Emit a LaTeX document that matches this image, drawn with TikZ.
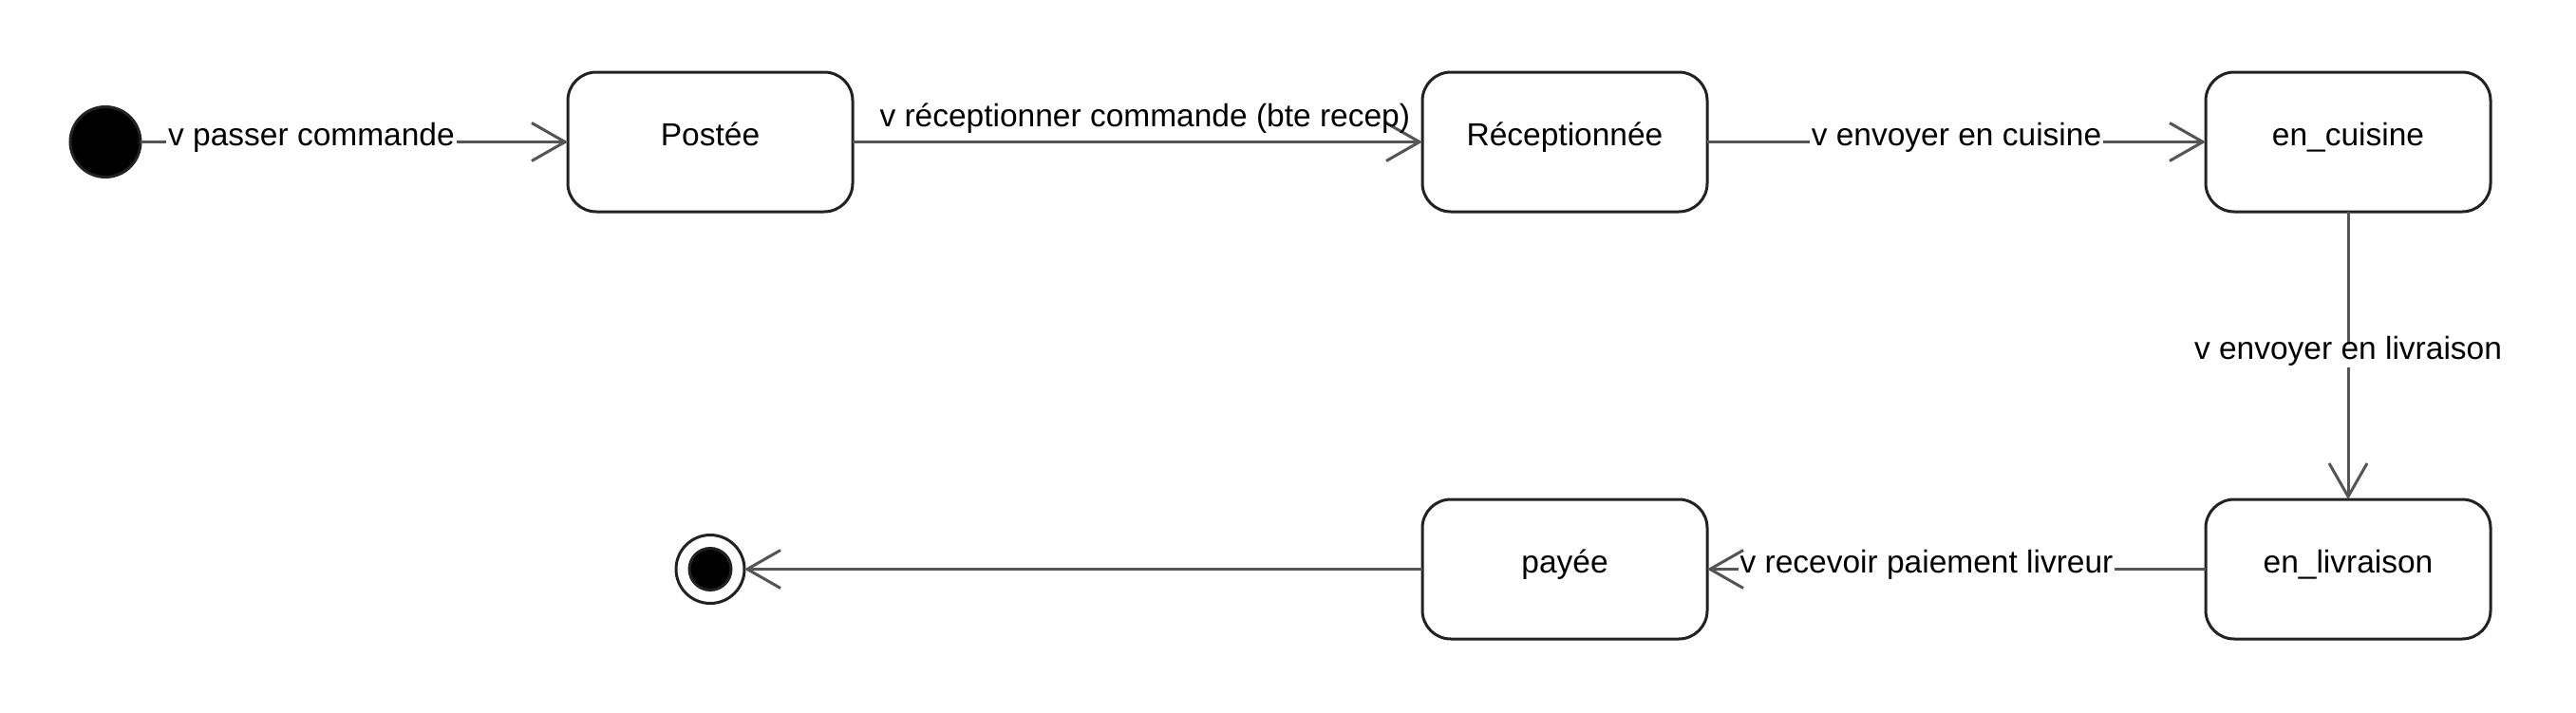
\documentclass[tikz,border=0pt]{standalone}
\usepackage{fontspec}
\setmainfont{Liberation Sans}
\usepackage{tikz}
\usetikzlibrary{shapes,arrows.meta,positioning}
\definecolor{lineGray}{HTML}{555555}
\definecolor{borderDark}{HTML}{222222}
\tikzstyle{etat}=[rectangle, draw=borderDark, line width=1.5pt, rounded corners=15pt, minimum width=150pt, minimum height=73.5pt, outer sep=0pt, text height=0.7em, text depth=0.3em]
\tikzstyle{debut}=[circle, draw=borderDark, fill=black, line width=1.5pt, minimum size=37pt, inner sep=0pt, outer sep=0pt]
\tikzstyle{fin}=[circle, draw=borderDark, fill=white, line width=1.5pt, minimum size=36pt, inner sep=0pt, outer sep=0pt]
\tikzstyle{trans}=[draw=lineGray, line width=1.5pt, -{Straight Barb[length=17.5pt,width=20pt]}]
\tikzstyle{lbl}=[fill=white, inner sep=1pt, text=black, text height=0.7em, text depth=0.3em]

\begin{document}
\begin{tikzpicture}[font=\fontsize{16.75}{20}\selectfont]
	\useasboundingbox (0,0) rectangle (1356.5pt,-375pt);

	%%% first row
	\node[debut] (init) at (55.5pt,-74.75pt) {};
	\node[etat, right=225pt of init] (postee) {Postée};
	\node[etat, right=300pt of postee] (receptionnee) {Réceptionnée};
	\node[etat, right=262.5pt of receptionnee] (enCuisine) {en\_cuisine};

	%%% second row
	\node[etat, below=151.5pt of enCuisine] (enLivraison) {en\_livraison};
	\node[etat, left=262.5pt of enLivraison] (payee) {payée};
	\node[fin, left=357pt of payee] (final) {};
	\node[circle, draw=borderDark, fill=black, line width=1.5pt, minimum size=22pt, inner sep=0pt] (finalDot) at (final.center) {};

	% transitions
	\draw[trans] (init) -- node[lbl, pos=0.4] {v passer commande} (postee);
	\draw[trans] (postee) -- node[above=0pt, pos=0.513, inner sep=5pt, text depth=0.25em] {v réceptionner commande (bte recep)} (receptionnee);
	\draw[trans] (receptionnee) -- node[lbl] {v envoyer en cuisine} (enCuisine);
	\draw[trans] (enCuisine) -- node[lbl] {v envoyer en livraison} (enLivraison);
	\draw[trans] (enLivraison) -- node[lbl, pos=0.56] {v recevoir paiement livreur} (payee);
	\draw[trans] (payee) -- (final);
\end{tikzpicture}
\end{document}
